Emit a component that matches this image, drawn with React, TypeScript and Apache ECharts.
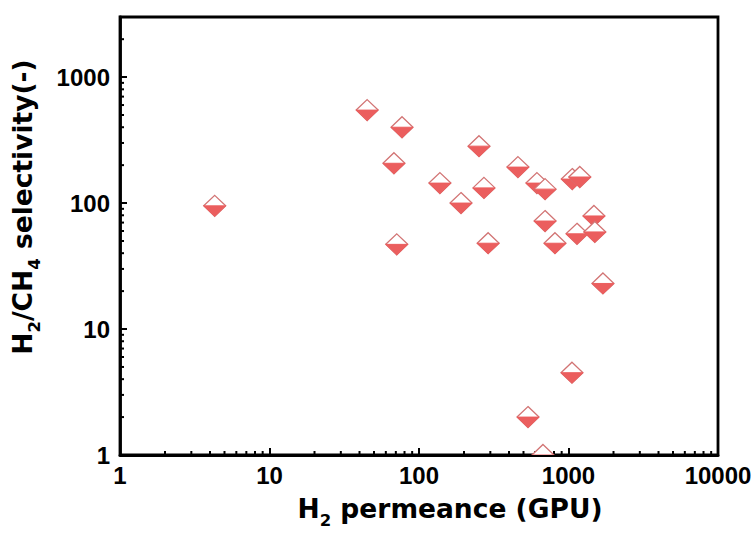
import React, { useEffect, useRef } from 'react';
import * as echarts from 'echarts';

const permeance = [4.3, 45, 77, 68, 71, 138, 191, 252, 272, 290, 459, 615, 697, 697, 812, 1060, 1190, 1055, 536, 675, 1140, 1480, 1500, 1700];
const selectivity = [95, 547, 400, 207, 47, 144, 100, 283, 132, 48, 193, 144, 129, 72, 48, 155, 161, 4.5, 2, 1, 57, 79, 59, 23];

const xMinorTicks = [2, 3, 4, 5, 6, 7, 8, 9, 20, 30, 40, 50, 60, 70, 80, 90, 200, 300, 400, 500, 600, 700, 800, 900, 2000, 3000, 4000, 5000, 6000, 7000, 8000, 9000];
const yMinorTicks = [2, 3, 4, 5, 6, 7, 8, 9, 20, 30, 40, 50, 60, 70, 80, 90, 200, 300, 400, 500, 600, 700, 800, 900, 2000];

const X_MIN = 1;
const X_MAX = 10000;
const Y_MIN = 1;
const Y_MAX = 3000;

const RED = '#EB5E5E';
const EDGE = '#D27474';

export default function App() {
  const ref = useRef<HTMLDivElement>(null);
  useEffect(() => {
    if (!ref.current) return;
    const chart = echarts.init(ref.current, null, { renderer: 'svg' });
    const labelFmt = (v: number) => {
      const l = Math.log10(v);
      return Math.abs(l - Math.round(l)) < 1e-6 ? String(Math.round(v)) : '';
    };
    const titleRich = {
      m: { fontFamily: 'DejaVu Sans', fontWeight: 'bold', fontSize: 26.5, lineHeight: 30, verticalAlign: 'top', color: '#000' },
      s: { fontFamily: 'DejaVu Sans', fontWeight: 'bold', fontSize: 16.5, lineHeight: 34, verticalAlign: 'bottom', color: '#000' },
    };
    chart.setOption({
      animation: false,
      backgroundColor: '#fff',
      grid: { left: 120, top: 17, right: 38, bottom: 83, show: true, borderColor: '#000', borderWidth: 2.8, backgroundColor: 'transparent' },
      xAxis: {
        type: 'log', logBase: 10, min: X_MIN, max: X_MAX, splitNumber: 4,
        name: '{m|H}{s|2}{m| permeance (GPU)}', nameLocation: 'middle', nameGap: 40,
        nameTextStyle: { rich: titleRich, padding: [0, 0, 0, 62] },
        axisLine: { lineStyle: { color: '#000', width: 2.8 } },
        axisTick: { inside: true, length: 7, lineStyle: { color: '#000', width: 2 } },
        axisLabel: { formatter: labelFmt, color: '#000', fontFamily: 'Liberation Sans', fontWeight: 'bold', fontSize: 24, margin: 8 },
        splitLine: { show: false },
      },
      yAxis: {
        type: 'log', logBase: 10, min: Y_MIN, max: Y_MAX, splitNumber: 3,
        name: '{m|H}{s|2}{m|/CH}{s|4}{m| selectivity(-)}', nameLocation: 'middle', nameGap: 77,
        nameTextStyle: { rich: titleRich, padding: [0, 0, 0, 58] },
        axisLine: { lineStyle: { color: '#000', width: 2.8 } },
        axisTick: { inside: true, length: 7, lineStyle: { color: '#000', width: 2 } },
        axisLabel: { formatter: labelFmt, color: '#000', fontFamily: 'Liberation Sans', fontWeight: 'bold', fontSize: 24, margin: 10 },
        splitLine: { show: false },
      },
      series: [
        {
          type: 'custom',
          clip: true,
          silent: true,
          data: xMinorTicks.map((v) => [v, Y_MIN]),
          renderItem: (params: any, api: any) => {
            const p = api.coord([api.value(0), api.value(1)]);
            return { type: 'line', shape: { x1: p[0], y1: p[1], x2: p[0], y2: p[1] - 4 }, style: { stroke: '#000', lineWidth: 2 } };
          },
        },
        {
          type: 'custom',
          clip: true,
          silent: true,
          data: yMinorTicks.map((v) => [X_MIN, v]),
          renderItem: (params: any, api: any) => {
            const p = api.coord([api.value(0), api.value(1)]);
            return { type: 'line', shape: { x1: p[0], y1: p[1], x2: p[0] + 4, y2: p[1] }, style: { stroke: '#000', lineWidth: 2 } };
          },
        },
        {
          type: 'custom',
          clip: true,
          data: permeance.map((x, i) => [x, selectivity[i]]),
          renderItem: (params: any, api: any) => {
            const p = api.coord([api.value(0), api.value(1)]);
            const w = 11;
            const h = 10.5;
            return {
              type: 'group',
              children: [
                {
                  type: 'polygon',
                  shape: { points: [[p[0], p[1] - h], [p[0] + w, p[1]], [p[0], p[1] + h], [p[0] - w, p[1]]] },
                  style: { fill: '#fff', stroke: EDGE, lineWidth: 1.3 },
                },
                {
                  type: 'polygon',
                  shape: { points: [[p[0] - w, p[1]], [p[0] + w, p[1]], [p[0], p[1] + h]] },
                  style: { fill: RED, stroke: RED, lineWidth: 1 },
                },
              ],
            };
          },
        },
      ],
    });
    return () => chart.dispose();
  }, []);
  return <div ref={ref} style={{ position: 'absolute', left: 0, top: 0, width: 756, height: 538 }} />;
}
